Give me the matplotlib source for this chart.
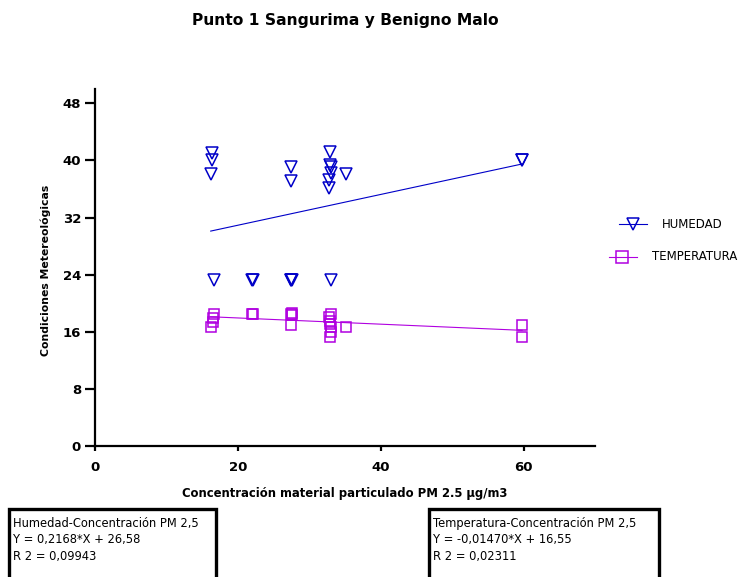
import matplotlib

matplotlib.use("Agg")
from matplotlib import pyplot
from matplotlib.lines import Line2D
from matplotlib.patches import Rectangle

# Humedad (triangles) vs PM 2.5
hum_x = [16.4, 16.4, 16.2, 16.6, 22.0, 22.1, 27.4, 27.5, 27.5, 27.6, 27.4,
         32.9, 32.9, 33.0, 33.1, 32.7, 32.7, 33.1, 35.2, 59.8, 59.8]
hum_y = [41.1, 40.0, 38.1, 23.2, 23.2, 23.2, 39.1, 37.1, 23.2, 23.2, 23.2,
         41.2, 39.3, 39.1, 38.2, 37.2, 36.1, 23.2, 38.1, 40.1, 40.0]

# Temperatura (squares) vs PM 2.5
temp_x = [16.6, 16.5, 16.5, 16.2, 22.0, 22.1, 27.5, 27.6, 27.6, 27.4,
          33.1, 32.8, 32.9, 32.9, 33.0, 33.0, 32.9, 35.2, 59.8, 59.8]
temp_y = [18.5, 17.9, 17.3, 16.6, 18.5, 18.5, 18.5, 18.4, 18.6, 16.9,
          18.5, 18.1, 17.5, 17.1, 16.6, 16.0, 15.3, 16.6, 16.9, 15.3]

# fitted lines as drawn
hum_fit_x = [16.2, 59.8]
hum_fit_y = [30.1, 39.5]
temp_fit_x = [16.2, 59.8]
temp_fit_y = [18.1, 16.2]

x_ticks = [0, 20, 40, 60]
y_ticks = [0, 8, 16, 24, 32, 40, 48]

series_names = ["HUMEDAD", "TEMPERATURA"]
box_texts = [
    "Humedad-Concentración PM 2,5\nY = 0,2168*X + 26,58\nR 2 = 0,09943",
    "Temperatura-Concentración PM 2,5\nY = -0,01470*X + 16,55\nR 2 = 0,02311",
]

HUM_COLOR = "#0000C8"
TEMP_COLOR = "#B000E0"
W, H = 744, 577
FONT = "DejaVu Sans"


def fx(px):
    return px / W


def fy(py):
    return 1 - py / H


fig = pyplot.figure(figsize=(W / 100, H / 100), dpi=100)
ax = fig.add_axes([fx(95), fy(446), fx(595) - fx(95), fy(89) - fy(446)])

ax.plot(hum_fit_x, hum_fit_y, color=HUM_COLOR, linewidth=0.8)
ax.plot(temp_fit_x, temp_fit_y, color=TEMP_COLOR, linewidth=0.8)
ax.plot(hum_x, hum_y, linestyle="none", marker="v", markersize=8,
        markerfacecolor="none", markeredgecolor=HUM_COLOR, markeredgewidth=1.1)
ax.plot(temp_x, temp_y, linestyle="none", marker="s", markersize=7.5,
        markerfacecolor="none", markeredgecolor=TEMP_COLOR, markeredgewidth=1.1)

ax.set_xlim(0, 70)
ax.set_ylim(0, 50)
ax.set_xticks(x_ticks)
ax.set_yticks(y_ticks)
for side in ["top", "right"]:
    ax.spines[side].set_visible(False)
for side in ["left", "bottom"]:
    ax.spines[side].set_linewidth(1.6)
ax.tick_params(axis="y", length=7, width=1.6, pad=3)
ax.tick_params(axis="x", length=3.5, width=1.6, pad=7)
for label in ax.get_xticklabels() + ax.get_yticklabels():
    label.set_fontfamily(FONT)
    label.set_fontweight("bold")
    label.set_fontsize(9.5)

ax.set_xlabel("Concentración material particulado PM 2.5 µg/m3", fontfamily=FONT,
              fontweight="bold", fontsize=8.4, labelpad=10)
ax.set_ylabel("Condiciones Metereológicas", fontfamily=FONT,
              fontweight="bold", fontsize=7.8)
ax.yaxis.set_label_coords((51 - 95) / 500, (446 - 270) / 357)

fig.text(fx(345), fy(21), "Punto 1 Sangurima y Benigno Malo", ha="center",
         va="center", fontfamily=FONT, fontweight="bold", fontsize=11.2)

# legend drawn by hand
legend_rows = [
    (series_names[0], HUM_COLOR, "v", 619, 647, 633, 662, 224),
    (series_names[1], TEMP_COLOR, "s", 609, 637, 622, 652, 257),
]
for name, color, marker, x0, x1, xm, xt, yl in legend_rows:
    fig.add_artist(Line2D([fx(x0), fx(x1)], [fy(yl), fy(yl)], color=color,
                          linewidth=0.8))
    fig.add_artist(Line2D([fx(xm)], [fy(yl)], marker=marker, markersize=8,
                          markerfacecolor="none", markeredgecolor=color,
                          markeredgewidth=1.1))
    fig.text(fx(xt), fy(yl), name, va="center", fontfamily=FONT, fontsize=8.5)

# equation boxes
for text, left, right in zip(box_texts, [9, 429], [216, 659]):
    fig.add_artist(Rectangle((fx(left), fy(600)), fx(right) - fx(left),
                             fy(509) - fy(600), fill=False, edgecolor="black",
                             linewidth=2.4, clip_on=False))
    fig.text(fx(left + 4), fy(517), text, va="top", ha="left", fontfamily=FONT,
             fontsize=8.3, linespacing=1.35)

fig.savefig("out.png", dpi=100)
